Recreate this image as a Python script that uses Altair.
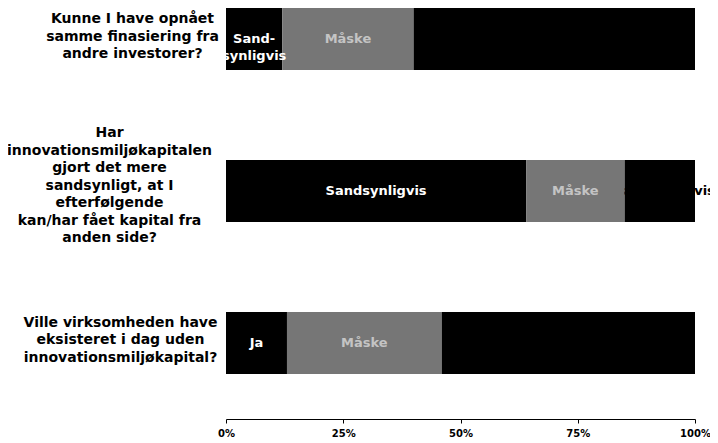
import altair as alt
import pandas as pd

questions = [
    "Kunne I have opnået\nsamme finasiering fra\nandre investorer?",
    "Har\ninnovationsmiljøkapitalen\ngjort det mere\nsandsynligt, at I\nefterfølgende\nkan/har fået kapital fra\nanden side?",
    "Ville virksomheden have\neksisteret i dag uden\ninnovationsmiljøkapital?",
]
kinds = ["positiv", "maaske", "negativ"]
first_labels = ["Sand-\nsynligvis", "Sandsynligvis", "Ja"]
middle_label = "Måske"
third_labels = ["Usandsynligvis", "Usandsynligvis", "Nej"]
first_vals = [12, 64, 13]
middle_vals = [28, 21, 33]
third_vals = [60, 15, 54]
tick_values = [0, 25, 50, 75, 100]

rows = []
for i, q in enumerate(questions):
    labs = [first_labels[i], middle_label, third_labels[i]]
    vals = [first_vals[i], middle_vals[i], third_vals[i]]
    for k, (kind, lab, val) in enumerate(zip(kinds, labs, vals)):
        rows.append({"question": q, "kind": kind, "order": k, "label": lab, "value": val})
df = pd.DataFrame(rows)

FONT = "DejaVu Sans"

base = (
    alt.Chart(df)
    .transform_window(
        end="sum(value)",
        sort=[alt.SortField("order")],
        groupby=["question"],
        frame=[None, 0],
    )
    .transform_calculate(start="datum.end - datum.value")
    .transform_calculate(mid="(datum.start + datum.end) / 2")
)

y_axis = alt.Axis(
    domain=False,
    ticks=False,
    labelExpr='split(datum.label, "\\n")',
    labelAlign="center",
    labelBaseline="middle",
    labelPadding={
        "condition": [
            {"test": "indexof(datum.value, 'Kunne') == 0", "value": 94},
            {"test": "indexof(datum.value, 'Har') == 0", "value": 117},
        ],
        "value": 106,
    },
    labelOffset={
        "condition": [
            {"test": "indexof(datum.value, 'Har') == 0", "value": -58},
        ],
        "value": -20,
    },
    labelFont=FONT,
    labelFontSize=14,
    labelFontWeight="bold",
    labelColor="black",
    labelLineHeight=17.5,
    labelLimit=400,
)

y_enc = alt.Y(
    "question:N",
    sort=questions,
    title=None,
    scale=alt.Scale(paddingInner=0.592, paddingOuter=0),
    axis=y_axis,
)

x_axis = alt.Axis(
    values=tick_values,
    labelExpr="datum.value + '%'",
    grid=False,
    offset=45,
    tickSize=4,
    tickColor="black",
    domainColor="black",
    labelPadding=5,
    labelFlush=False,
    labelFont=FONT,
    labelFontSize=10,
    labelFontWeight="bold",
    labelColor="black",
)
x_scale = alt.Scale(domain=[0, 100], nice=False, zero=True)

bars = base.mark_bar(strokeWidth=0).encode(
    x=alt.X("start:Q", title=None, scale=x_scale, axis=x_axis),
    x2="end:Q",
    y=y_enc,
    color=alt.Color(
        "kind:N",
        scale=alt.Scale(domain=kinds, range=["#000000", "#767676", "#000000"]),
        legend=None,
    ),
)

text_color = alt.Color(
    "kind:N",
    scale=alt.Scale(domain=kinds, range=["#ffffff", "#c4c4c4", "#000000"]),
    legend=None,
)


def seg_text(filter_expr):
    return (
        base.transform_filter(filter_expr)
        .mark_text(
            font=FONT,
            fontSize=13,
            fontWeight="bold",
            align="center",
            baseline="middle",
            lineBreak="\n",
            lineHeight=17,
        )
        .encode(
            x=alt.X("mid:Q", title=None, scale=x_scale, axis=x_axis),
            y=y_enc,
            text="label:N",
            color=text_color,
        )
    )


texts_under = seg_text("datum.kind == 'negativ'")
texts_over = seg_text("datum.kind != 'negativ'")

chart = (
    alt.layer(texts_under, bars, texts_over)
    .resolve_scale(color="independent")
    .properties(
        width=469,
        height=366,
        autosize=alt.AutoSizeParams(type="none"),
        padding={"left": 218, "top": 0, "right": 15, "bottom": 66},
        background="white",
    )
    .configure_view(stroke=None)
)

chart.save("out.html", embed_options={"renderer": "svg", "actions": False})
